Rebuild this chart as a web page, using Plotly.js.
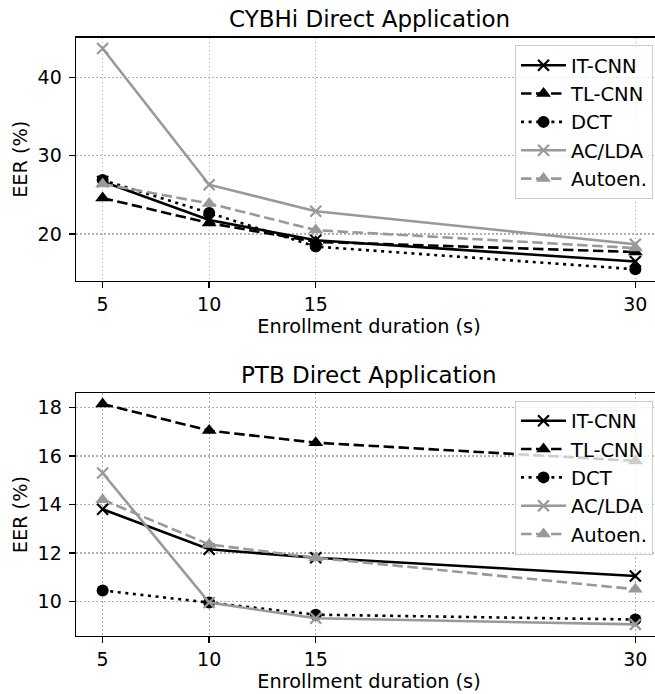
<!DOCTYPE html>
<html>
<head>
<meta charset="utf-8">
<script src="https://cdn.plot.ly/plotly-3.0.1.min.js"></script>
<style>
html,body{margin:0;padding:0;overflow:hidden;background:#fff;}
#chart{width:663px;height:694px;}
</style>
</head>
<body>
<div id="chart"></div>
<script>
const durations = [5, 10, 15, 30];
const seriesNames = ["IT-CNN", "TL-CNN", "DCT", "AC/LDA", "Autoen."];

// CYBHi Direct Application (EER %)
const cybhiITCNN  = [26.7, 21.8, 19.2, 16.5];
const cybhiTLCNN  = [24.6, 21.4, 19.0, 17.7];
const cybhiDCT    = [26.9, 22.7, 18.4, 15.5];
const cybhiACLDA  = [43.7, 26.3, 22.9, 18.7];
const cybhiAutoen = [26.4, 23.9, 20.5, 18.2];

// PTB Direct Application (EER %)
const ptbITCNN  = [13.8, 12.15, 11.8, 11.05];
const ptbTLCNN  = [18.15, 17.05, 16.55, 15.8];
const ptbDCT    = [10.45, 9.95, 9.45, 9.25];
const ptbACLDA  = [15.3, 9.95, 9.3, 9.05];
const ptbAutoen = [14.2, 12.35, 11.8, 10.5];

const xTicks = [5, 10, 15, 30];
const topYTicks = [20, 30, 40];
const botYTicks = [10, 12, 14, 16, 18];

const BLACK = "#000000", GREY = "#999999";
const LW = 2.6;
const DASH = "10.5px,4.5px";
const DOT = "3px,4.6px";
const styles = [
  {color: BLACK, dash: "solid", symbol: "x-thin", size: 11},
  {color: BLACK, dash: DASH, symbol: "triangle-up", size: 13},
  {color: BLACK, dash: DOT, symbol: "circle", size: 12},
  {color: GREY, dash: "solid", symbol: "x-thin", size: 11},
  {color: GREY, dash: DASH, symbol: "triangle-up", size: 13}
];

function mk(name, ys, st, xa, ya, leg) {
  const isX = st.symbol === "x-thin";
  return {
    type: "scatter", mode: "lines+markers", name: name,
    x: durations, y: ys, xaxis: xa, yaxis: ya, legend: leg,
    line: {color: st.color, width: LW, dash: st.dash},
    marker: {symbol: st.symbol, size: st.size, color: st.color,
             line: {color: st.color, width: isX ? 2.2 : 0}}
  };
}

const topData = [cybhiITCNN, cybhiTLCNN, cybhiDCT, cybhiACLDA, cybhiAutoen];
const botData = [ptbITCNN, ptbTLCNN, ptbDCT, ptbACLDA, ptbAutoen];
const traces = [];
topData.forEach((d, i) => traces.push(mk(seriesNames[i], d, styles[i], "x", "y", "legend")));
botData.forEach((d, i) => traces.push(mk(seriesNames[i], d, styles[i], "x2", "y2", "legend2")));

const FONT = "DejaVu Sans, sans-serif";
const axisCommon = {
  showline: true, linecolor: "#000", linewidth: 1.4, mirror: true,
  ticks: "outside", ticklen: 6, tickwidth: 1.4, tickcolor: "#000",
  showgrid: true, gridcolor: "#b0b0b0", gridwidth: 1.2, griddash: "1.5px,2.5px",
  zeroline: false, tickfont: {family: FONT, size: 19, color: "#000"}
};
const xCommon = Object.assign({}, axisCommon, {
  range: [3.75, 31.25], tickmode: "array", tickvals: xTicks, ticktext: xTicks.map(String),
  title: {text: "Enrollment duration (s)", font: {family: FONT, size: 19.3, color: "#000"}, standoff: 5}
});
const yCommon = Object.assign({}, axisCommon, {ticklabelstandoff: 3});
const legendCommon = {
  bgcolor: "rgba(255,255,255,0.8)", bordercolor: "#cccccc", borderwidth: 1,
  font: {family: FONT, size: 19.5, color: "#000"}, xanchor: "right", yanchor: "top",
  tracegroupgap: 0, itemwidth: 45
};

const layout = {
  width: 663, height: 694,
  margin: {l: 76, r: 1, t: 0, b: 0},
  paper_bgcolor: "#fff", plot_bgcolor: "#fff",
  font: {family: FONT, color: "#000"},
  xaxis: Object.assign({}, xCommon, {anchor: "y", domain: [0, 1]}),
  yaxis: Object.assign({}, yCommon, {
    anchor: "x", domain: [1 - 281 / 694, 1 - 37.5 / 694], range: [14.0, 45.1],
    tickmode: "array", tickvals: topYTicks,
    title: {text: "EER (%)", font: {family: FONT, size: 19.3, color: "#000"}, standoff: 5}
  }),
  xaxis2: Object.assign({}, xCommon, {anchor: "y2", domain: [0, 1]}),
  yaxis2: Object.assign({}, yCommon, {
    anchor: "x2", domain: [1 - 636 / 694, 1 - 393.3 / 694], range: [8.57, 18.59],
    tickmode: "array", tickvals: botYTicks,
    title: {text: "EER (%)", font: {family: FONT, size: 19.3, color: "#000"}, standoff: 5}
  }),
  legend: Object.assign({}, legendCommon, {x: (653 - 76) / 586, y: 1 - 45 / 694}),
  legend2: Object.assign({}, legendCommon, {x: (653 - 76) / 586, y: 1 - 400.5 / 694}),
  annotations: [
    {text: "CYBHi Direct Application", xref: "paper", yref: "paper", x: 0.5, y: 1 - 37.5 / 694,
     xanchor: "center", yanchor: "bottom", yshift: 3, showarrow: false,
     font: {family: FONT, size: 23, color: "#000"}},
    {text: "PTB Direct Application", xref: "paper", yref: "paper", x: 0.5, y: 1 - 393.3 / 694,
     xanchor: "center", yanchor: "bottom", yshift: 3, showarrow: false,
     font: {family: FONT, size: 23, color: "#000"}}
  ],
  showlegend: true
};

Plotly.newPlot("chart", traces, layout, {displayModeBar: false, staticPlot: true});
</script>
</body>
</html>
